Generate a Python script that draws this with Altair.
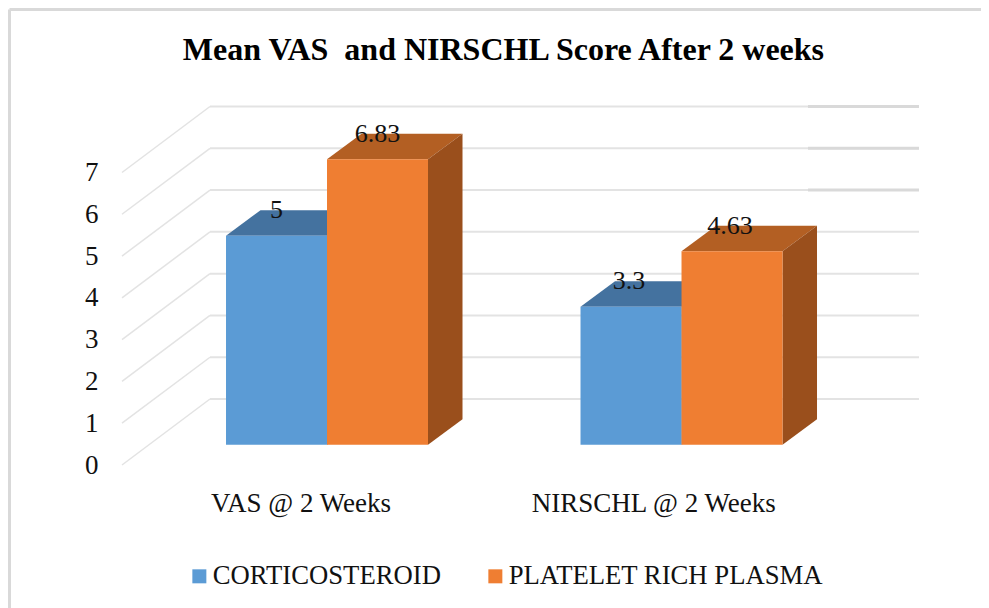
import altair as alt
import pandas as pd

# --- values ---
title_text = "Mean VAS\u00a0 and NIRSCHL Score After 2 weeks"
categories = ["VAS @ 2 Weeks", "NIRSCHL @ 2 Weeks"]
series = ["CORTICOSTEROID", "PLATELET RICH PLASMA"]
corticosteroid = [5, 3.3]
prp = [6.83, 4.63]
value_labels = [["5", "3.3"], ["6.83", "4.63"]]
ticks = [0, 1, 2, 3, 4, 5, 6, 7]

# --- oblique projection, in axis units ---
WALL_X, WALL_Y = 0.2482, 1.579      # depth of the whole floor
BAR_X, BAR_Y = 0.0973, 0.61         # depth of one bar
START, BASE = 0.2934, 0.486         # where the bars stand on the floor
BAR_W = 0.2849
X_MAX, Y_MAX = 2.2482, 8.579

FRONT = {series[0]: "#5B9BD5", series[1]: "#EF7E32"}
TOP = {series[0]: "#44729F", series[1]: "#B35F23"}
SIDE = {series[0]: "#3F6C96", series[1]: "#9A4F1C"}

front_rows, face_rows, label_rows = [], [], []
for s, (name, vals) in enumerate(zip(series, [corticosteroid, prp])):
    for c, v in enumerate(vals):
        x0 = c + START + s * BAR_W
        x1 = x0 + BAR_W
        top = v + BASE
        front_rows.append(dict(series=name, x=x0, x2=x1, y=BASE, y2=top))
        label_rows.append(dict(x=(x0 + x1) / 2 - 0.006 * c, y=top + BAR_Y, t=value_labels[s][c]))
        key = f"{s}-{c}"
        for px, lo, hi in [(x0, top, top), (x0 + BAR_X, top, top + BAR_Y),
                           (x1, top, top + BAR_Y), (x1 + BAR_X, top + BAR_Y, top + BAR_Y)]:
            face_rows.append(dict(face="t" + key, x=px, y=lo, y2=hi, fill=TOP[name]))
        for px, lo, hi in [(x1, BASE, top), (x1 + BAR_X, BASE + BAR_Y, top + BAR_Y)]:
            face_rows.append(dict(face="s" + key, x=px, y=lo, y2=hi, fill=SIDE[name]))

front = pd.DataFrame(front_rows)
faces = pd.DataFrame(face_rows)
labels = pd.DataFrame(label_rows)
cats = pd.DataFrame(dict(x=[0.505, 1.5], y=[-0.933, -0.933], t=categories))
heading = pd.DataFrame(dict(x=[1.076], y=[9.928], t=[title_text]))
wall = pd.DataFrame([dict(t=t, x=WALL_X, x2=X_MAX, y=t + WALL_Y) for t in ticks])
bold = wall[wall.t >= 5].assign(x=(808 - 122) / 354.5)
floor = pd.DataFrame([dict(t=t, x=px, y=t + dy) for t in ticks for px, dy in [(0, 0), (WALL_X, WALL_Y)]])

X = alt.Scale(domain=[0, X_MAX], nice=False, zero=False)
Y = alt.Scale(domain=[0, Y_MAX], nice=False, zero=False)
SERIF = "Liberation Serif"

xq = alt.X("x:Q", scale=X, axis=None)
yq = alt.Y("y:Q", scale=Y, axis=alt.Axis(
    values=ticks, title=None, domain=False, ticks=False, grid=False, labelFont=SERIF,
    labelFontSize=27, labelColor="#111111", labelPadding=24))

frame_top = alt.Chart(pd.DataFrame({"a": [0]})).mark_rule(color="#d9d9d9", strokeWidth=3).encode(
    x=alt.value(-112.5), x2=alt.value(867), y=alt.value(-97))
frame_left = alt.Chart(pd.DataFrame({"a": [0]})).mark_rule(color="#d9d9d9", strokeWidth=3).encode(
    x=alt.value(-112.5), y=alt.value(-97), y2=alt.value(501.5))

grid = alt.Chart(wall).mark_rule(color="#e3e3e3", strokeWidth=2).encode(x=xq, x2="x2:Q", y=yq)
grid_bold = alt.Chart(bold).mark_rule(color="#d9d9d9", strokeWidth=3).encode(x=xq, x2="x2:Q", y=yq)
diag = alt.Chart(floor).mark_line(color="#e3e3e3", strokeWidth=1.5).encode(x=xq, y=yq, detail="t:N")

area = alt.Chart(faces).mark_area(orient="vertical", interpolate="linear").encode(
    x=xq, y=yq, y2="y2:Q", detail="face:N", fill=alt.Fill("fill:N", scale=None))

bars = alt.Chart(front).mark_bar().encode(
    x=xq, x2="x2:Q", y=yq, y2="y2:Q",
    color=alt.Color("series:N", scale=alt.Scale(domain=series, range=[FRONT[s] for s in series]),
                    legend=alt.Legend(
                        title=None, orient="none", legendX=64, legendY=456, direction="horizontal",
                        columns=2, symbolType="square", symbolSize=196, symbolStrokeWidth=0,
                        labelFont=SERIF, labelFontSize=26.7, labelColor="#111111", labelOffset=0,
                        columnPadding=41, labelLimit=400)))

value_text = alt.Chart(labels).mark_text(font=SERIF, fontSize=26, color="#111111", baseline="middle").encode(
    x=xq, y=yq, text="t:N")
cat_text = alt.Chart(cats).mark_text(font=SERIF, fontSize=27, color="#111111", baseline="middle").encode(
    x=xq, y=yq, text="t:N")
title_mark = alt.Chart(heading).mark_text(font=SERIF, fontSize=32, fontWeight="bold", color="#000000",
                                          baseline="middle").encode(x=xq, y=yq, text="t:N")

chart = alt.layer(
    frame_top, frame_left, grid, grid_bold, diag, area, bars, value_text, cat_text, title_mark
).properties(
    width=797, height=358.5,
    padding={"left": 114, "top": 98.5, "right": 62, "bottom": 143},
    autosize=alt.AutoSizeParams(type="none"),
    background="white",
).configure_view(stroke=None)

chart.save("out.html", embed_options={"renderer": "svg", "actions": False})
